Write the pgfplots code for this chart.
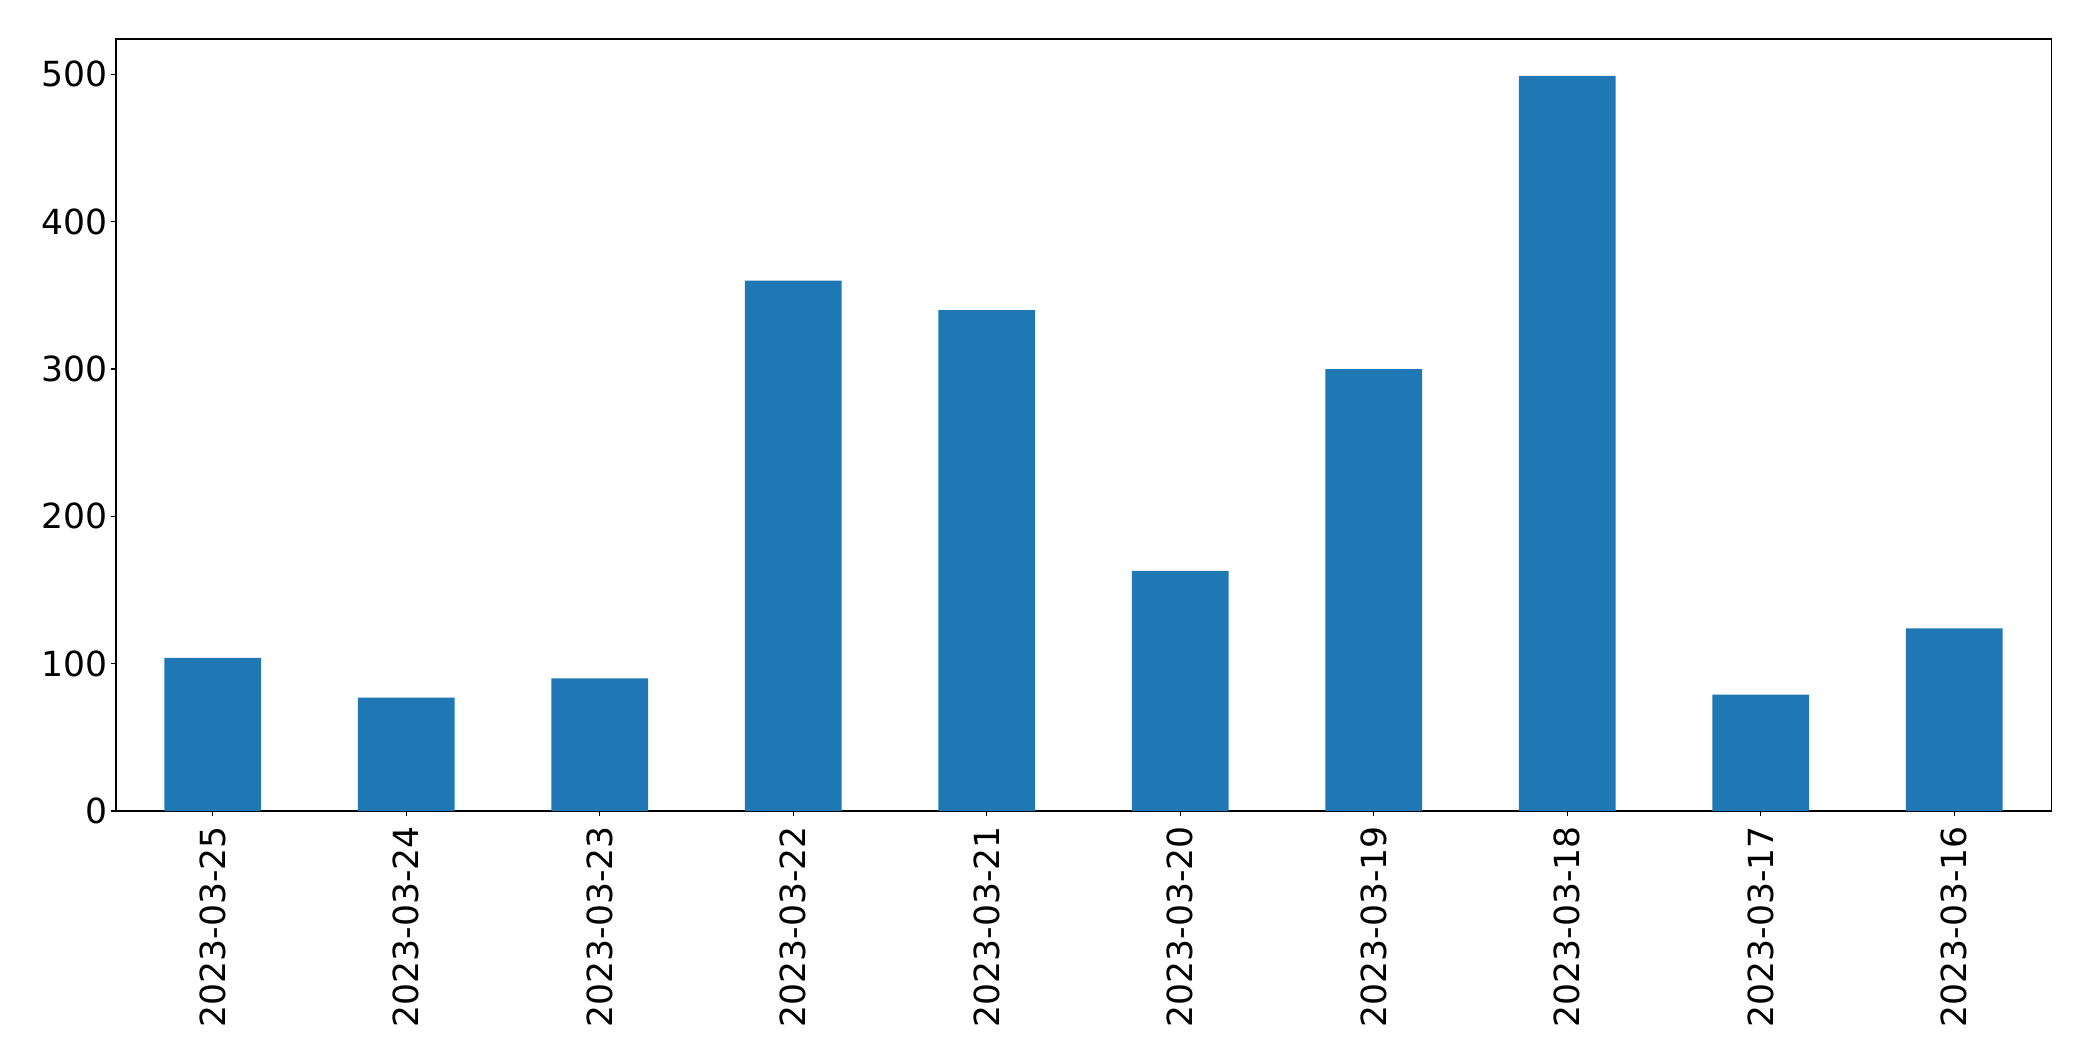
\documentclass[border=0pt]{standalone}
\usepackage{fontspec}
\setmainfont{DejaVu Sans}
\usepackage{pgfplots}
\pgfplotsset{compat=1.18}
\definecolor{barblue}{HTML}{1F77B4}

\begin{document}
\begin{tikzpicture}
    % page frame in reference pixels (1px = 0.01in), axis corner at origin
    \useasboundingbox (-1.16in,-2.50in) rectangle (19.77in,8.11in);
    \begin{axis}[
        at={(0,0)}, anchor=south west,
        scale only axis,
        width=19.35in, height=7.72in,
        xmin=-0.5, xmax=9.5,
        ymin=0, ymax=524,
        xtick={0,...,9},
        xticklabels={2023-03-25,2023-03-24,2023-03-23,2023-03-22,2023-03-21,
                     2023-03-20,2023-03-19,2023-03-18,2023-03-17,2023-03-16},
        ytick={0,100,200,300,400,500},
        tick align=outside,
        major tick length=0.049in,
        tick style={black, line width=0.8pt},
        axis line style={line width=0.8pt},
        xtick pos=bottom, ytick pos=left,
        /pgf/number format/assume math mode=true,
        ticklabel style={font=\fontsize{25}{30}\selectfont},
        xticklabel style={rotate=90, anchor=east, inner sep=0.1in},
        yticklabel style={inner sep=0.035in},
    ]
        \addplot[ybar, bar width=0.5, fill=barblue, draw=none] coordinates {
            (0,104) (1,77) (2,90) (3,360) (4,340)
            (5,163) (6,300) (7,499) (8,79) (9,124)
        };
    \end{axis}
\end{tikzpicture}
\end{document}
